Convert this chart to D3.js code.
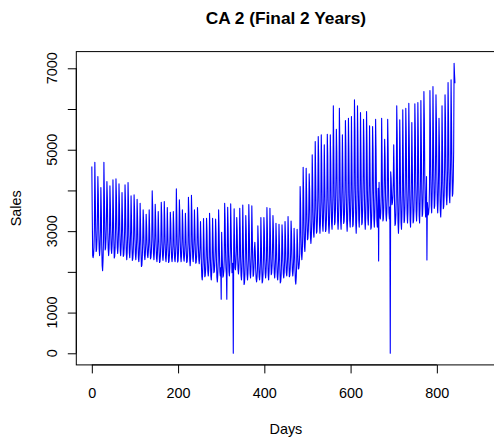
<!DOCTYPE html>
<html>
<head>
<meta charset="utf-8">
<script src="https://cdn.jsdelivr.net/npm/d3@7"></script>
<style>
html,body{margin:0;padding:0;background:#fff;}
svg{display:block;}
text{font-family:"Liberation Sans",Arial,Helvetica,sans-serif;fill:#000;}
</style>
</head>
<body>
<div id="chart"></div>
<script>
// ---- data (daily sales, day index 0..842) ----
const sales = [
4586,3400,2400,2350,2420,2600,3100,
4693,3910,3010,2500,2540,2790,3350,
4340,3910,3040,2560,2400,2590,3020,
4070,3500,2640,2150,2030,2280,2760,
4693,3930,3050,2540,2590,2830,3380,
4218,3820,3000,2550,2400,2580,2980,
4111,3650,2950,2550,2450,2650,3050,
4259,3570,2790,2340,2380,2590,3080,
4283,3880,3060,2600,2450,2630,3040,
4160,3670,2930,2510,2400,2610,3030,
3948,3390,2750,2380,2410,2590,2990,
4136,3730,2910,2450,2300,2480,2890,
4193,3680,2900,2460,2350,2570,3010,
3866,3300,2650,2280,2320,2490,2900,
3890,3540,2830,2430,2300,2460,2810,
3784,3350,2710,2340,2250,2430,2800,
3686,3130,2500,2130,2160,2340,2730,
3522,3250,2700,2400,2300,2420,2690,
3415,3120,2670,2410,2350,2480,2730,
3522,3090,2610,2320,2350,2480,2790,
3989,3620,2860,2440,2300,2470,2840,
3661,3270,2670,2340,2250,2420,2760,
3481,3030,2520,2230,2250,2390,2710,
3710,3400,2750,2390,2280,2420,2740,
3726,3310,2690,2340,2250,2430,2780,
3579,3100,2550,2230,2260,2410,2750,
3464,3200,2650,2350,2250,2370,2640,
3481,3140,2620,2320,2250,2400,2690,
4038,3400,2660,2240,2270,2480,2940,
3767,3430,2750,2370,2250,2400,2740,
3522,3170,2640,2340,2260,2410,2710,
3440,3010,2510,2230,2250,2390,2700,
3833,3460,2710,2290,2150,2320,2690,
3882,3430,2740,2350,2250,2450,2840,
3522,3050,2520,2210,2230,2380,2720,
3579,3280,2660,2310,2200,2340,2640,
3235,2830,2230,1890,1800,1970,2320,
3309,2800,2220,1880,1910,2070,2430,
3317,3010,2370,2010,1900,2040,2350,
3440,2980,2290,1900,1800,2000,2390,
3317,2840,2290,1980,2010,2160,2500,
3300,2960,2260,1870,1750,1910,2250,
3522,3070,2390,2000,1900,2100,1330,
2973,2580,2130,1870,1900,2020,2300,
3686,3300,2520,2090,1950,1330,2510,
3587,3120,2410,2000,1900,2100,2510,
3669,3070,2380,1980,2020,2210,0,
2650,3550,2600,2100,2050,2200,2500,
3333,3030,2410,2060,1950,2090,2390,
3563,3070,2330,1910,1800,2010,2440,
3644,2950,2150,1690,1730,1950,2450,
3382,3030,2320,1930,1800,1960,2310,
3653,3150,2390,1960,1850,2070,2500,
3620,3000,2290,1890,1920,2120,2560,
2727,2510,2070,1830,1750,1850,2060,
3129,2760,2200,1880,1800,1960,2280,
3333,2760,2110,1730,1770,1950,2350,
3333,3010,2340,1970,1850,2000,2330,
3579,3080,2330,1910,1800,2010,2440,
3563,2980,2320,1930,1970,2150,2570,
3382,3050,2360,1970,1850,2000,2340,
3194,2800,2220,1880,1800,1970,2300,
3170,2660,2070,1730,1760,1920,2290,
3153,2870,2280,1950,1850,1980,2270,
3235,2860,2300,1980,1900,2060,2380,
3358,2830,2230,1880,1910,2080,2450,
3251,2950,2350,2010,1900,2040,2330,
3071,2690,2110,1780,1700,1870,2190,
3047,2700,2300,2070,2090,2200,2450,
4095,3700,2890,2440,2300,2480,2870,
4570,3990,3120,2620,2500,2750,3250,
4545,3920,3200,2790,2820,3020,3470,
4406,4030,3260,2840,2700,2870,3250,
4873,4310,3460,2970,2850,3090,3580,
5201,4400,3480,2950,2990,3250,3820,
5323,4800,3730,3140,2950,3190,3710,
5364,4700,3710,3140,3000,3280,3850,
5119,4360,3490,2990,3040,3280,3820,
5381,4850,3750,3140,2950,3190,3730,
5364,4720,3740,3190,3050,3330,3880,
6077,5040,3840,3160,3220,3550,4290,
5504,4960,3860,3250,3050,3300,3840,
6020,5190,3940,3230,3050,3410,4120,
5364,4590,3700,3190,3240,3480,4040,
5717,5120,3900,3220,3000,3270,3870,
5774,5030,3900,3260,3100,3420,4060,
5815,4850,3740,3110,3160,3470,4160,
6224,5500,4030,3210,2950,3280,4000,
6077,5240,3990,3280,3100,3460,4170,
5913,4930,3800,3160,3210,3520,4230,
5749,5160,3940,3270,3050,3320,3910,
5938,5160,3990,3320,3150,3490,4150,
5586,4680,3650,3050,3100,3390,4030,
5569,5030,3920,3300,3100,3350,3890,
5749,5010,3900,3260,3100,3420,4050,
2268,4201,3700,3350,3300,3450,3900,
5774,4870,3840,3250,3300,3590,4230,
5258,4820,3910,3410,3250,3450,3890,
5749,5060,4030,3450,3300,3590,0,
4460,4300,3900,3650,3700,3850,4200,
5119,4410,3610,3140,3180,3400,3910,
6077,5390,3980,3200,2950,3260,3950,
5733,4980,3860,3210,3050,3370,4020,
5979,4990,3860,3210,3260,3570,4280,
6020,5400,4130,3430,3200,3480,4100,
6143,5290,4010,3280,3100,3470,4200,
5667,4790,3780,3200,3250,3530,4160,
6126,5490,4200,3480,3250,3540,4170,
6159,5330,4090,3380,3200,3560,4270,
6208,5190,4030,3360,3420,3740,4460,
6429,5750,4370,3600,3350,3660,4340,
2293,3700,3550,3400,3450,3600,4100,
6454,5610,4350,3630,3450,3810,4530,
6552,5480,4260,3560,3620,3960,4720,
6347,5710,4410,3680,3450,3740,4380,
5774,5100,4080,3500,3350,3640,4220,
6077,5180,4140,3550,3600,3890,4530,
6347,5750,4540,3870,3650,3920,4510,
6650,5820,4590,3880,3700,4050,4760,
6716,5700,4530,3860,3920,4240,4970,
7125,6850,6634
];
const xTicks = [0, 200, 400, 600, 800];
const yTicks = [0, 1000, 2000, 3000, 4000, 5000, 6000, 7000];
const yTickLabels = [0, 1000, 3000, 5000, 7000];
const title = "CA 2 (Final 2 Years)";
const xLabel = "Days";
const yLabel = "Sales";

// ---- layout ----
const W = 494, H = 442;
const plot = {left: 76.3, right: 495.5, top: 51.6, bottom: 364.9};
const baseFont = 14.4;
const tick = 8.5;

const svg = d3.select("#chart").append("svg")
  .attr("width", W).attr("height", H)
  .style("background", "#fff");

const x = d3.scaleLinear().domain([-36, 936]).range([plot.left, plot.right]);
const y = d3.scaleLinear().domain([-285, 7410]).range([plot.bottom, plot.top]);

// data line
const line = d3.line()
  .x((d, i) => x(i))
  .y(d => y(d));

svg.append("path")
  .datum(sales)
  .attr("fill", "none")
  .attr("stroke", "#0000ff")
  .attr("stroke-width", 1.1)
  .attr("stroke-linejoin", "round")
  .attr("d", line);

// box (right edge lies just outside the canvas)
svg.append("rect")
  .attr("x", plot.left).attr("y", plot.top)
  .attr("width", plot.right - plot.left)
  .attr("height", plot.bottom - plot.top)
  .attr("fill", "none").attr("stroke", "#000").attr("stroke-width", 1);

// x axis
const xAxis = d3.axisBottom(x)
  .tickValues(xTicks)
  .tickSize(tick)
  .tickSizeOuter(0)
  .tickPadding(14)
  .tickFormat(d3.format("d"));
const gx = svg.append("g")
  .attr("transform", `translate(0,${plot.bottom})`)
  .call(xAxis);
gx.select(".domain")
  .attr("d", `M${x(xTicks[0])},0H${x(xTicks[xTicks.length-1])}`)
  .attr("stroke", "#000");
gx.selectAll(".tick line").attr("stroke", "#000");
gx.selectAll("text")
  .attr("font-size", baseFont)
  .attr("font-family", "Liberation Sans, Arial, sans-serif")
  .attr("fill", "#000");

// y axis (ticks via d3 axis, labels rotated like R)
const yAxis = d3.axisLeft(y)
  .tickValues(yTicks)
  .tickSize(tick)
  .tickSizeOuter(0)
  .tickFormat("");
const gy = svg.append("g")
  .attr("transform", `translate(${plot.left},0)`)
  .call(yAxis);
gy.select(".domain")
  .attr("d", `M0,${y(yTicks[0])}V${y(yTicks[yTicks.length-1])}`)
  .attr("stroke", "#000");
gy.selectAll(".tick line").attr("stroke", "#000");

svg.append("g").selectAll("text")
  .data(yTickLabels)
  .join("text")
  .attr("transform", d => `translate(57.3,${y(d)}) rotate(-90)`)
  .attr("text-anchor", "middle")
  .attr("font-size", baseFont)
  .text(d => d);

// title and axis labels
svg.append("text")
  .attr("x", (plot.left + plot.right) / 2)
  .attr("y", 23.5)
  .attr("text-anchor", "middle")
  .attr("font-size", 17.3)
  .attr("font-weight", "bold")
  .text(title);

svg.append("text")
  .attr("x", (plot.left + plot.right) / 2)
  .attr("y", 433.5)
  .attr("text-anchor", "middle")
  .attr("font-size", baseFont)
  .text(xLabel);

svg.append("text")
  .attr("transform", `translate(21,${(plot.top + plot.bottom) / 2}) rotate(-90)`)
  .attr("text-anchor", "middle")
  .attr("font-size", baseFont)
  .text(yLabel);
</script>
</body>
</html>
